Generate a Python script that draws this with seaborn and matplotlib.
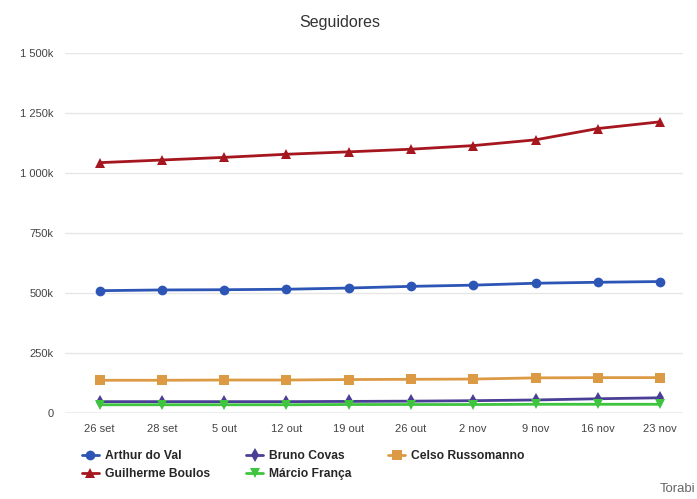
import matplotlib
matplotlib.use("Agg")
import matplotlib.pyplot as plt
import seaborn as sns
import pandas as pd

dates = ["26 set", "28 set", "5 out", "12 out", "19 out", "26 out", "2 nov", "9 nov", "16 nov", "23 nov"]
arthur = [510, 513, 514, 516, 521, 528, 533, 541, 545, 548]
bruno = [48, 48, 48, 48, 49, 50, 52, 55, 60, 64]
celso = [137, 137, 138, 138, 140, 141, 142, 147, 148, 148]
guilherme = [1043, 1054, 1065, 1078, 1088, 1099, 1114, 1138, 1185, 1213]
marcio = [35, 35, 35, 35, 36, 36, 36, 37, 37, 37]
yticks = [0, 250, 500, 750, 1000, 1250, 1500]
ytick_labels = ["0", "250k", "500k", "750k", "1 000k", "1 250k", "1 500k"]

series = {
    "Arthur do Val": arthur,
    "Guilherme Boulos": guilherme,
    "Bruno Covas": bruno,
    "Márcio França": marcio,
    "Celso Russomanno": celso,
}
colors = {
    "Arthur do Val": "#2c55b5",
    "Guilherme Boulos": "#a5161f",
    "Bruno Covas": "#4a3f96",
    "Márcio França": "#3ec43e",
    "Celso Russomanno": "#dc9a45",
}
markers = {
    "Arthur do Val": "o",
    "Guilherme Boulos": "^",
    "Bruno Covas": "d",
    "Márcio França": "v",
    "Celso Russomanno": "s",
}

rows = []
for name, vals in series.items():
    for i, v in enumerate(vals):
        rows.append({"x": i, "y": v * 1000, "name": name})
df = pd.DataFrame(rows)

sns.set_theme(style="white")
plt.rcParams["font.family"] = ["Liberation Sans", "DejaVu Sans"]

fig = plt.figure(figsize=(6.97, 4.99), dpi=100)
ax = fig.add_axes([0.093, 0.172, 0.887, 0.722])

sns.lineplot(data=df, x="x", y="y", hue="name", style="name",
             palette=colors, markers=markers, dashes=False,
             hue_order=list(series.keys()), style_order=list(series.keys()),
             linewidth=2.0, markersize=7, markeredgewidth=0, ax=ax, legend=True)

ax.set_ylim(0, 1500000)
ax.set_xlim(-0.56, 9.37)
ax.set_yticks([v * 1000 for v in yticks])
ax.set_yticklabels(ytick_labels)
ax.set_xticks(range(len(dates)))
ax.set_xticklabels(dates)
ax.tick_params(axis="both", length=0, labelsize=8, colors="#444444")
ax.tick_params(axis="y", pad=8)
ax.tick_params(axis="x", pad=8)
ax.grid(axis="y", color="#e6e6e6", linewidth=1)
for s in ax.spines.values():
    s.set_visible(False)
ax.axhline(0, color="#bbbbbb", linewidth=1)
ax.set_xlabel("")
ax.set_ylabel("")

fig.text(0.488, 0.955, "Seguidores", ha="center", va="center", fontsize=11.5, color="#333333")

handles, labels = ax.get_legend_handles_labels()
ax.legend(handles, labels, ncol=3, loc="upper left", bbox_to_anchor=(0.02, -0.09),
          frameon=False, prop={"weight": "bold", "size": 8.7}, handlelength=1.4,
          handletextpad=0.5, columnspacing=3.0, labelspacing=0.5, borderaxespad=0)

fig.text(0.997, 0.008, "Torabi", ha="right", va="bottom", fontsize=9.5, color="#666666")

fig.savefig("out.png", dpi=100)
